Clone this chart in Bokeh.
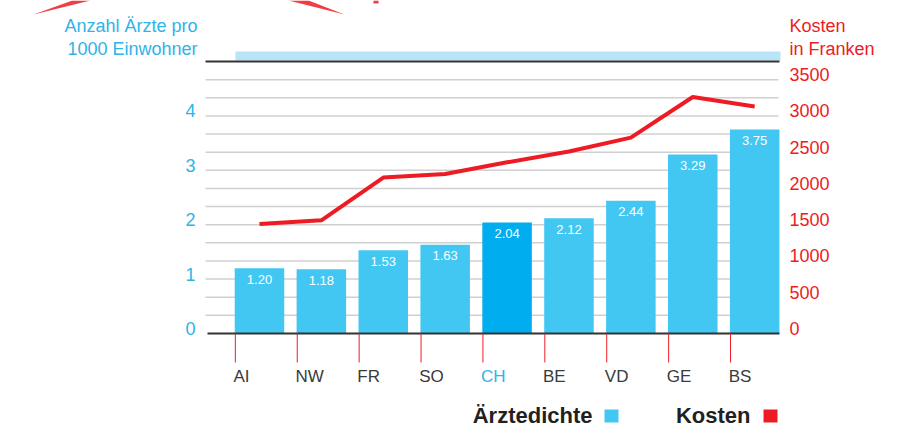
from bokeh.plotting import figure
from bokeh.models import Range1d, ColumnDataSource
from bokeh.core.properties import value
from bokeh.embed import file_html
from bokeh.resources import INLINE

# ---------------- data ----------------
cantons = ["AI", "NW", "FR", "SO", "CH", "BE", "VD", "GE", "BS"]
aerztedichte = [1.20, 1.18, 1.53, 1.63, 2.04, 2.12, 2.44, 3.29, 3.75]
kosten = [1510, 1560, 2150, 2200, 2360, 2510, 2700, 3260, 3130]
left_ticks = [0, 1, 2, 3, 4]
right_ticks = [0, 500, 1000, 1500, 2000, 2500, 3000, 3500]
highlight = "CH"
left_title = ["Anzahl Ärzte pro", "1000 Einwohner"]
right_title = ["Kosten", "in Franken"]
legend_items = ["Ärztedichte", "Kosten"]

# ---------------- style ----------------
FONT = "Liberation Sans"
CYAN = "#2eb4e7"
BAR = "#42c7f3"
BAR_HL = "#00adef"
RED = "#ed1c24"
GRID = "#d0d0d0"
BAND = "#b9e4f8"
DARK = "#333333"
TXT = "#3a3a3a"
LEG = "#231f20"

W, H = 887, 430
# chart area in canvas pixels
FL, FR, FT, FB = 205, 778, 61, 333
X0, X1 = -0.872, 8.385          # category index range across the chart area
Y0, Y1 = 0.0, 5.0               # Ärzte pro 1000 Einwohner
C_PER_Y = 750.0                 # Franken per unit of the left scale (3750 over the same height)


def px_x(px):
    return X0 + (px - FL) * (X1 - X0) / (FR - FL)


def px_y(py):
    return Y0 + (FB - py) * (Y1 - Y0) / (FB - FT)


p = figure(width=W, height=H, output_backend="svg", toolbar_location=None,
           x_range=Range1d(px_x(0), px_x(W)), y_range=Range1d(px_y(H), px_y(0)),
           x_axis_location=None, y_axis_location=None, min_border=0)
p.outline_line_color = None
p.xgrid.visible = False
p.ygrid.visible = False
p.background_fill_color = "white"
p.border_fill_color = "white"
p.extra_y_ranges = {"cost": Range1d(px_y(H) * C_PER_Y, px_y(0) * C_PER_Y)}

# light blue band above the chart
p.quad(left=px_x(235), right=px_x(780), top=px_y(51), bottom=px_y(60),
       fill_color=BAND, line_color=None)

# horizontal grid every 250 Franken (= 1/3 on the left scale)
grid_y = [k / 3 for k in range(1, 15)]
p.segment(x0=[px_x(FL)] * len(grid_y), x1=[px_x(FR)] * len(grid_y), y0=grid_y, y1=grid_y,
          line_color=GRID, line_width=1.5)
# top rule
p.segment(x0=[px_x(FL)], x1=[px_x(FR + 1)], y0=[Y1], y1=[Y1], line_color=DARK, line_width=2)

idx = list(range(len(cantons)))
src = ColumnDataSource(dict(
    x=idx,
    cat=cantons,
    v=aerztedichte,
    k=kosten,
    lab=["%.2f" % v for v in aerztedichte],
    left=[i - 0.42 for i in idx],
    tick=[i - 0.39 for i in idx],
    zero=[0.0] * len(idx),
    color=[BAR_HL if c == highlight else BAR for c in cantons],
    tcol=[CYAN if c == highlight else TXT for c in cantons],
))

p.vbar(x="x", top="v", bottom=0, width=0.8, fill_color="color", line_color=None, source=src)
p.line(x="x", y="k", y_range_name="cost", line_color=RED, line_width=4, source=src)
p.text(x="x", y="v", text="lab", text_align="center", text_baseline="middle", y_offset=11,
       text_color="white", text_font=value(FONT), text_font_size="13px", source=src)

# baseline and red category ticks
p.segment(x0=[px_x(FL + 2)], x1=[px_x(FR + 1)], y0=[0], y1=[0], line_color=DARK, line_width=2)
p.segment(x0="tick", x1="tick", y0="zero", y1=px_y(362), line_color=RED, line_width=1, source=src)

# category labels
p.text(x="left", y="zero", text="cat", text_color="tcol", text_align="left",
       text_baseline="middle", y_offset=43, text_font=value(FONT), text_font_size="17px",
       source=src)

# left tick labels
p.text(x=[px_x(195)] * len(left_ticks), y=left_ticks, text=[str(t) for t in left_ticks],
       text_align="right", text_baseline="middle", y_offset=-5, text_color=CYAN,
       text_font=value(FONT), text_font_size="18px")
# right tick labels
p.text(x=[px_x(789)] * len(right_ticks), y=right_ticks, text=[str(t) for t in right_ticks],
       y_range_name="cost", text_align="left", text_baseline="middle", y_offset=-5,
       text_color=RED, text_font=value(FONT), text_font_size="18px")

# axis titles
p.text(x=[px_x(197)] * 2, y=[px_y(25), px_y(48)], text=left_title, text_align="right",
       text_baseline="middle", text_color=CYAN, text_font=value(FONT), text_font_size="18px")
p.text(x=[px_x(789)] * 2, y=[px_y(25), px_y(48)], text=right_title, text_align="left",
       text_baseline="middle", text_color=RED, text_font=value(FONT), text_font_size="18px")

# legend (kept inside the canvas)
leg_mid = 415
p.text(x=[px_x(592), px_x(750)], y=[px_y(leg_mid)] * 2, text=legend_items,
       text_align="right", text_baseline="middle", text_color=LEG,
       text_font=value(FONT), text_font_style="bold", text_font_size="22px")
p.quad(left=[px_x(604), px_x(763)], right=[px_x(618), px_x(777)],
       top=[px_y(leg_mid - 6)] * 2, bottom=[px_y(leg_mid + 7)] * 2,
       fill_color=[BAR, RED], line_color=None)

# red decorative fragments at the very top (cut-off heading artwork)
deco_x = [[33, 72, 90], [288, 308, 344], [373, 378, 378, 373]]
deco_y = [[14, 0, 0], [0, 0, 14], [0, 0, 3, 3]]
p.patches(xs=[[px_x(a) for a in xs] for xs in deco_x],
          ys=[[px_y(b) for b in ys] for ys in deco_y],
          fill_color=RED, fill_alpha=0.85, line_color=None)

open("out.html", "w").write(file_html(p, INLINE))
